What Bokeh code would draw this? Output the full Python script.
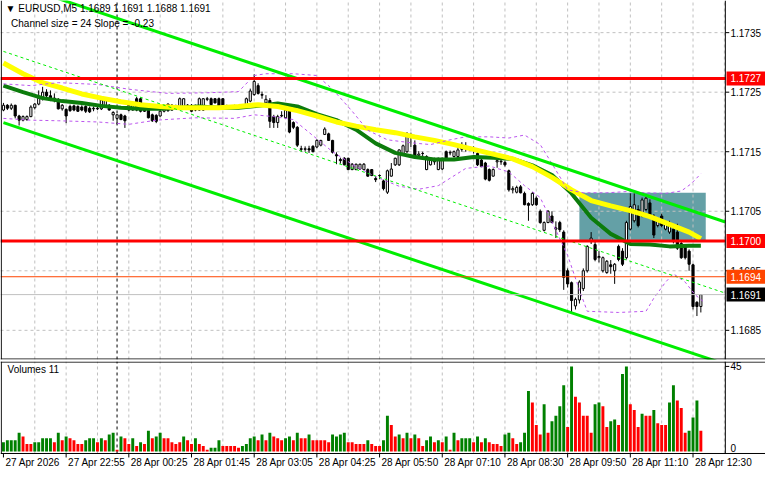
import numpy as np
from bokeh.plotting import figure
from bokeh.layouts import column
from bokeh.models import ColumnDataSource, Range1d
from bokeh.core.properties import value
from bokeh.embed import file_html
from bokeh.resources import INLINE

BASE = 1.1700
PIP = 0.0001

# ---- candles (pips relative to 1.1700) ----
opens_pips = [22.0,22.8,22.3,22.8,21.0,20.3,20.4,20.9,22.4,23.0,24.0,25.0,24.4,24.0,23.8,22.2,22.1,22.6,22.7,22.6,
              22.5,22.6,22.3,22.2,22.3,22.2,22.6,22.8,21.2,20.6,21.2,21.0,22.0,22.0,23.9,23.9,22.8,22.0,21.2,21.1,
              21.0,21.8,21.9,22.0,22.6,22.6,22.6,22.8,22.8,22.0,22.0,22.0,23.8,23.9,23.9,23.9,23.9,22.6,22.5,22.6,
              22.5,22.6,22.6,23.5,24.6,26.1,24.6,23.2,23.6,20.9,19.9,21.0,20.7,22.3,19.9,19.1,15.5,15.4,15.5,15.9,
              15.8,16.1,17.9,18.0,16.9,14.5,13.7,13.9,13.9,12.0,12.0,12.1,12.0,12.0,12.0,10.5,11.0,10.1,8.2,10.9,
              12.8,12.8,14.5,15.0,17.8,16.1,14.4,14.7,12.0,12.8,13.3,12.0,12.1,15.0,14.8,14.2,14.2,15.4,15.6,15.6,
              15.5,14.7,13.6,13.1,12.0,10.9,13.3,13.4,13.2,11.8,8.6,8.2,9.1,8.0,6.3,6.1,7.2,5.0,1.8,3.1,
              4.2,2.0,3.1,1.5,-5.0,-7.0,-10.9,-9.9,-8.0,-5.0,-0.1,-0.6,-2.8,-5.0,-5.3,-4.0,-5.0,-0.9,-1.7,-2.8,
              2.0,3.4,5.3,4.2,5.3,6.4,4.2,2.6,4.2,2.0,1.5,2.0,1.5,-0.4,-0.9,-1.7,-4.0,-10.3,-11.0]
highs_pips = [23.2,23.0,23.1,22.9,21.2,21.1,21.1,22.8,23.2,25.3,25.9,25.5,25.3,24.8,24.0,23.0,22.3,22.9,22.9,22.8,
              22.8,22.8,22.6,22.6,22.8,23.9,23.9,23.0,21.8,21.3,21.4,21.2,23.0,23.0,24.2,24.1,23.0,22.2,21.4,21.3,
              22.2,22.9,23.1,23.0,22.9,24.1,24.0,23.0,23.0,22.9,24.1,24.0,24.2,24.1,24.0,24.1,24.0,22.9,22.8,22.9,
              22.8,22.9,24.1,25.6,28.0,26.5,25.1,24.5,24.0,21.2,21.2,21.8,22.1,22.5,20.1,19.3,16.0,15.9,16.0,16.1,
              17.1,17.0,19.1,18.2,17.0,14.9,14.0,14.1,14.0,13.1,13.0,13.0,13.1,12.2,12.1,10.9,11.2,10.3,12.0,13.1,
              14.0,15.4,16.2,18.3,18.2,16.9,15.1,15.0,14.4,14.0,14.0,14.0,14.0,15.2,15.2,15.2,16.1,16.6,16.6,15.9,
              15.9,15.5,13.8,13.3,12.2,12.2,14.0,13.7,13.5,12.0,9.2,9.3,9.4,8.3,6.5,8.2,7.5,5.3,3.3,5.2,
              5.0,3.3,3.4,1.8,-4.6,-6.8,-9.5,-6.6,-4.6,-0.7,1.5,0.0,-1.7,-2.6,-3.2,-3.2,-3.7,-0.6,-1.2,3.4,
              8.0,8.0,6.0,7.3,7.4,7.0,4.5,3.9,4.6,3.4,3.4,2.8,2.9,0.0,-0.5,-1.4,-3.8,-10.1,-9.0]
lows_pips = [21.8,22.0,22.0,20.6,19.4,20.1,20.2,20.8,22.1,22.8,23.6,24.0,23.5,23.3,22.1,21.9,19.8,21.7,21.8,21.7,
             21.8,21.5,21.5,21.8,22.0,22.0,22.4,21.9,20.2,19.6,20.3,19.0,21.8,21.9,21.8,21.6,21.7,20.6,20.0,19.8,
             20.9,21.6,21.7,21.9,22.2,22.4,22.5,22.4,21.7,21.8,21.9,21.9,23.5,22.8,23.1,22.4,22.4,22.2,22.2,22.3,
             22.2,22.2,22.4,23.3,24.4,24.6,23.9,22.9,19.0,19.0,19.0,20.8,20.5,18.1,18.8,15.8,15.0,15.0,14.8,14.9,
             15.6,15.9,17.8,16.8,14.7,12.9,13.0,12.7,11.9,11.9,11.9,12.0,11.9,10.8,10.9,9.9,10.4,8.5,7.9,10.8,
             12.6,12.6,14.3,14.8,15.8,13.8,14.1,14.2,11.9,12.7,12.8,11.9,11.9,13.8,14.4,14.0,14.0,15.0,15.0,15.2,
             14.7,12.6,12.4,10.2,10.0,10.8,12.3,12.8,12.5,8.3,8.0,8.0,8.0,6.0,3.4,5.9,5.9,2.9,1.6,3.0,
             3.0,0.5,1.5,-8.2,-7.8,-12.0,-11.5,-10.5,-8.4,-5.3,-0.5,-3.4,-3.6,-5.3,-5.5,-5.5,-7.2,-3.4,-4.2,-3.1,
             1.8,3.1,2.3,4.0,5.0,4.0,0.5,2.3,2.3,1.8,1.2,-0.4,-1.5,-3.0,-3.1,-5.0,-11.5,-12.6,-12.0]
closes_pips = [22.8,22.3,22.8,21.0,20.3,20.9,20.9,22.5,23.0,24.0,25.0,24.4,24.0,23.8,22.2,22.8,21.0,21.9,22.0,21.8,
               22.0,21.8,21.7,22.3,22.2,23.7,23.8,22.0,21.6,21.2,20.4,20.2,22.8,22.8,22.0,21.8,21.8,20.7,20.2,20.1,
               21.8,22.8,23.0,22.8,22.7,23.9,23.9,22.8,21.8,22.8,23.9,23.9,23.9,22.9,23.2,22.6,22.6,22.5,22.6,22.5,
               22.6,22.5,23.9,25.2,26.8,24.8,24.5,23.8,20.1,19.9,20.9,21.1,22.0,18.3,19.1,16.1,15.4,15.5,15.3,15.0,
               16.9,16.9,18.8,16.9,14.9,14.3,13.5,12.8,12.0,12.9,12.9,12.9,12.9,10.9,11.0,10.3,11.0,8.8,11.8,12.1,
               13.9,15.3,16.0,18.0,17.4,14.0,14.6,14.7,14.2,13.9,13.4,13.9,13.9,13.9,14.9,15.0,15.3,15.6,15.5,15.6,
               15.2,12.8,12.5,10.4,10.2,12.0,13.5,13.3,12.8,8.6,8.8,9.0,8.1,6.1,6.0,8.0,6.1,3.1,3.1,5.0,
               3.1,2.2,1.9,-6.1,-7.2,-10.0,-9.8,-6.9,-5.0,-0.9,0.5,-3.1,-2.6,-2.8,-3.4,-4.3,-3.9,-3.1,-3.9,3.1,
               5.8,6.1,2.6,6.9,7.2,4.2,1.0,3.6,2.6,3.1,3.1,-0.1,-1.2,-2.8,-2.8,-3.9,-11.0,-11.0,-9.0]

# ---- tick volumes ----
volumes = [5,6,6,6,10,8,4,4,5,5, 7,7,7,5,10,6,8,7,6,4, 4,6,7,7,5,7,6,9,10,1,
           8,7,4,7,3,5,4,11,7,8, 10,7,7,5,4,5,8,6,4,7, 4,3,1,2,2,6,3,3,3,3,
           2,3,4,7,8,6,9,6,10,8, 7,6,7,8,6,10,7,7,9,6, 6,6,6,5,9,8,9,10,5,5,
           4,4,4,6,4,3,3,6,19,14, 8,9,7,10,7,9,7,3,6,8, 5,6,5,8,1,10,6,7,7,7,
           5,8,5,7,5,4,4,3,9,10, 7,4,5,10,32,26,14,9,25,10, 16,19,24,35,13,45,29,26,19,19,
           10,25,26,24,13,16,17,14,41,45, 25,22,13,20,19,19,22,15,14,14, 26,35,27,23,10,11,18,27,11]
volume_dir = ("GGGGGRRRGG" "GGGRGRGRRR" "RGGGRGRGGR" "GRRGRGRGRG" "GRRRRRGRRG" "RRRGGGRRRR"
              "RGGGGRGRGR" "RRGGRGRRGR" "RRRRGGGGRR" "RRRGRRRGGR" "RGRGRGRRGG" "RGRGRGRGGG"
              "RGRGRRRRGG" "RRGGGRRRGR" "GGGGRGRRRR" "RGGRRGGRGG" "RRRGRRGRRR" "GGRRRGGGR")

# ---- indicators (bar index, pips) ----
ma_bars = [0,5,10,15,20,25,30,35,40,45,50,55,60,65,70,75,80,85,90,95,100,105,110,115,120,
           125,130,135,140,145,150,155,160,165,170,175,178]
ma_fast_pips = [29.9,28.1,26.6,25.7,24.7,24.0,23.4,22.9,22.6,22.4,22.4,22.4,22.6,22.9,22.6,21.9,21.0,20.0,
                19.3,18.7,18.2,17.5,16.9,16.2,15.4,14.6,13.8,12.5,10.7,8.6,6.8,5.9,5.1,4.1,2.8,1.5,0.4]
ma_slow_pips = [26.1,25.0,24.0,23.5,23.2,22.7,22.4,22.2,22.2,22.4,22.6,22.4,22.4,22.7,23.1,22.6,21.3,20.3,
                18.7,16.4,14.8,14.1,13.7,13.7,14.1,14.0,13.8,12.7,11.1,8.0,3.9,1.2,-0.5,-0.6,-0.9,-0.8,-0.8]

band_up_bars = [0,7,14,24,32,42,52,60,64,67,74,80,84,89,93,98,104,109,114,118,124,129,133,137,140,144,148,
                154,159,164,169,173,175.5,178]
band_up_pips = [26.4,26.1,26.6,26.3,25.5,24.8,24.9,25.1,27.8,28.1,28.1,27.8,25.5,21.8,18.6,17.0,16.5,16.2,
                17.0,17.5,17.5,17.3,17.8,16.2,13.0,8.6,8.1,8.1,8.3,8.1,8.0,8.4,9.6,11.3]
band_dn_bars = [0,7,14,24,32,39,49,59,64,69,74,79,84,89,95,101,106,111,118,124,129,133,137,140,144,147,
                149,157,164,166,169,171,174,176.5,178.5]
band_dn_pips = [20.6,20.3,20.2,20.0,19.6,20.3,20.7,20.6,21.2,20.9,20.4,17.7,15.0,12.9,10.8,9.2,8.7,9.3,
                12.2,12.6,11.6,9.3,7.3,3.2,-2.4,-8.2,-11.8,-12.0,-11.8,-9.6,-6.9,-5.5,-6.9,-9.0,-10.1]

chan_bars = [0, 184.25]
chan_upper_pips = [43.8, 3.2]
chan_mid_pips = [31.85, -8.75]
chan_lower_pips = [19.9, -20.7]

zone_bars = [147, 179.25]
zone_pips = [0.1, 8.1]

level_prices = [1.17273, 1.17000, 1.16940, 1.16910]
level_texts = ["1.1727", "1.1700", "1.1694", "1.1691"]
level_colors = ["#ff0000", "#ff0000", "#ff4500", "#000000"]
price_ticks = [1.1685, 1.1695, 1.1705, 1.1715, 1.1725, 1.1735]
price_tick_labels = ["1.1685", "1.1695", "1.1705", "1.1715", "1.1725", "1.1735"]
marker_bar = 29
grid_bars = list(range(8, 185, 8))
time_tick_bars = [0, 16, 32, 48, 64, 80, 96, 112, 128, 144, 160, 176]
time_labels = ["27 Apr 2026", "27 Apr 22:55", "28 Apr 00:25", "28 Apr 01:45", "28 Apr 03:05",
               "28 Apr 04:25", "28 Apr 05:50", "28 Apr 07:10", "28 Apr 08:30", "28 Apr 09:50",
               "28 Apr 11:10", "28 Apr 12:30"]
vol_ticks = [0, 45]
vol_tick_labels = ["0", "45"]

FONT = value("Liberation Sans")
FS = value("10px")
GRID = "#c0c0c0"

def px(vals):
    return BASE + np.asarray(vals, dtype=float) * PIP

o = px(opens_pips); h = px(highs_pips); l = px(lows_pips); c = px(closes_pips)
bars = np.arange(len(c))
up = c >= o

# horizontal layout: plot area ends at X1, price scale occupies X1..XR
X0, X1, XR = -0.75, 184.25, 194.5
YB, YT = 1.16801, 1.17404          # price panel
VB, VT = -1.0, 47.6                # volume panel
VLOW = -11.57                      # bottom of canvas (time scale area)

def make_fig(h_px, yr, border_bottom=0):
    f = figure(width=765, height=h_px, x_range=xr, y_range=yr, output_backend="svg",
               toolbar_location=None, x_axis_location=None, y_axis_location=None,
               min_border_left=0, min_border_right=0, min_border_top=0,
               min_border_bottom=border_bottom)
    f.outline_line_color = None
    f.background_fill_color = "white"
    f.border_fill_color = "white"
    f.grid.visible = False
    return f

xr = Range1d(X0, XR)
p = make_fig(361, Range1d(YB, YT), border_bottom=2)

# zone rectangle
p.quad(left=[zone_bars[0]], right=[zone_bars[1]], bottom=[px(zone_pips)[0]], top=[px(zone_pips)[1]],
       fill_color="#64a0a6", line_color=None)
# grid
p.segment(x0=X0, y0=price_ticks, x1=X1, y1=price_ticks, line_color=GRID, line_dash="3 3")
p.segment(x0=grid_bars, y0=YB, x1=grid_bars, y1=YT, line_color=GRID, line_dash="3 3")
p.segment(x0=[marker_bar], y0=YB, x1=[marker_bar], y1=YT, line_color="black", line_dash="3 3")

# candles
p.segment(x0=bars, y0=l, x1=bars, y1=h, line_color="black", line_width=1)
src = ColumnDataSource(dict(x=bars, bot=np.minimum(o, c), top=np.maximum(o, c),
                            fill=np.where(up, "white", "black")))
p.vbar(x="x", bottom="bot", top="top", width=0.55, fill_color="fill", line_color="black",
       line_width=1, source=src)

# moving averages
p.line(ma_bars, px(ma_slow_pips), line_color="#0c7c0c", line_width=4)
p.line(ma_bars, px(ma_fast_pips), line_color="#ffff00", line_width=5)
# bands
p.line(band_up_bars, px(band_up_pips), line_color="#bb55ee", line_width=1, line_dash="3 3")
p.line(band_dn_bars, px(band_dn_pips), line_color="#bb55ee", line_width=1, line_dash="3 3")
# regression channel
p.line(chan_bars, px(chan_upper_pips), line_color="#00ee00", line_width=3)
p.line(chan_bars, px(chan_lower_pips), line_color="#00ee00", line_width=3)
p.line(chan_bars, px(chan_mid_pips), line_color="#00ee00", line_width=1, line_dash="3 3")

# horizontal levels
p.segment(x0=X0, y0=level_prices[:2], x1=X1, y1=level_prices[:2], line_color="#ff0000", line_width=3)
p.segment(x0=X0, y0=[level_prices[2]], x1=X1, y1=[level_prices[2]], line_color="#ff4500", line_width=1)
p.segment(x0=X0, y0=[level_prices[3]], x1=X1, y1=[level_prices[3]], line_color=GRID, line_width=1)

# frame lines
p.segment(x0=[X1], y0=[YB], x1=[X1], y1=[YT], line_color="black", line_width=1)
p.segment(x0=[X0 + 0.2], y0=[YB], x1=[X0 + 0.2], y1=[YT], line_color="black", line_width=1)
p.segment(x0=[X0], y0=[YB + 0.000008], x1=[XR], y1=[YB + 0.000008], line_color="black", line_width=1)

# price scale
p.segment(x0=X1, y0=price_ticks, x1=X1 + 1.0, y1=price_ticks, line_color="black")
p.text(x=[X1 + 1.3] * len(price_ticks), y=price_ticks, text=price_tick_labels, text_font=FONT,
       text_font_size=FS, text_baseline="middle", text_align="left", text_color="black")
p.rect(x=[(X1 + 0.3 + XR) / 2] * 4, y=level_prices, width=XR - X1 - 0.3, height=14,
       height_units="screen", fill_color=level_colors, line_color=None)
p.text(x=[X1 + 1.3] * 4, y=level_prices, text=level_texts, text_font=FONT, text_font_size=FS,
       text_baseline="middle", text_align="left", text_color="white")

# header texts
title = "\u25bc EURUSD,M5  %.4f %.4f %.4f %.4f" % (o[-1], h[-1], l[-1], c[-1])
p.text(x=[X0 + 1.3], y=[1.17391], text=[title], text_font=FONT, text_font_size=FS,
       text_baseline="middle", text_color="black")
p.text(x=[X0 + 2.7], y=[1.17365], text=["Channel size = 24 Slope = -0.23"], text_font=FONT,
       text_font_size=FS, text_baseline="middle", text_color="black")

# ---- volumes panel ----
v = make_fig(112, Range1d(VLOW, VT))
v.segment(x0=grid_bars, y0=VB, x1=grid_bars, y1=VT, line_color=GRID, line_dash="3 3")
v.segment(x0=[marker_bar], y0=VB, x1=[marker_bar], y1=VT, line_color="black", line_dash="3 3")
vcol = ["#008000" if d == "G" else "#ff0000" for d in volume_dir]
v.vbar(x=bars, bottom=0, top=volumes, width=0.75, fill_color=vcol, line_color=None)
v.segment(x0=[X0], y0=[VT - 0.3], x1=[XR], y1=[VT - 0.3], line_color="black")
v.segment(x0=[X0], y0=[VB], x1=[XR], y1=[VB], line_color="black")
v.segment(x0=[X1], y0=[VB], x1=[X1], y1=[VT], line_color="black")
v.segment(x0=[X0 + 0.2], y0=[VB], x1=[X0 + 0.2], y1=[VT], line_color="black")
v.segment(x0=[X1], y0=[vol_ticks[1]], x1=[X1 + 1.0], y1=[vol_ticks[1]], line_color="black")
v.text(x=[X1 + 1.3], y=[vol_ticks[1]], text=[vol_tick_labels[1]], text_font=FONT, text_font_size=FS,
       text_baseline="middle", text_color="black")
v.text(x=[X1 + 1.3], y=[vol_ticks[0]], text=[vol_tick_labels[0]], text_font=FONT, text_font_size=FS,
       text_baseline="bottom", text_color="black")
v.text(x=[X0 + 1.8], y=[43.5], text=["Volumes %d" % volumes[-1]], text_font=FONT, text_font_size=FS,
       text_baseline="middle", text_color="black")
# time scale
v.segment(x0=time_tick_bars, y0=VB, x1=time_tick_bars, y1=VB - 2.1, line_color="black")
v.text(x=[b + 0.5 for b in time_tick_bars], y=[-5.9] * len(time_tick_bars), text=time_labels,
       text_font=FONT, text_font_size=FS, text_baseline="middle", text_align="left",
       text_color="black")

layout = column(p, v, spacing=0)
open("out.html", "w").write(file_html(layout, INLINE))
